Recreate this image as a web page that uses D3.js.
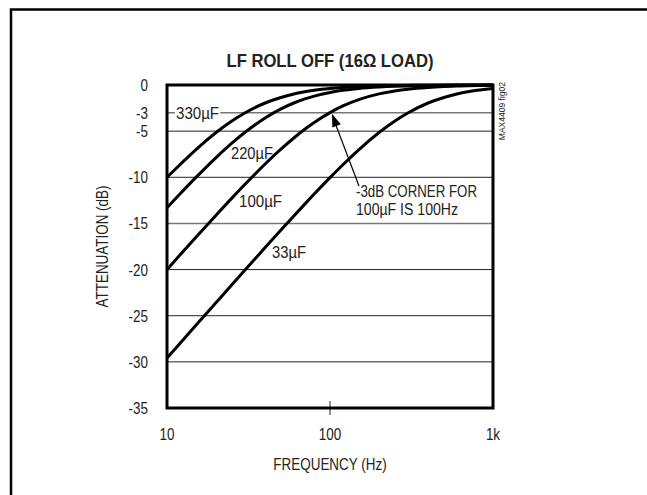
<!DOCTYPE html>
<html><head><meta charset="utf-8">
<script src="https://cdn.jsdelivr.net/npm/d3@7"></script>
<style>
body{margin:0;background:#fff;}
text{font-family:"Liberation Sans Narrow","Liberation Sans",Arial,sans-serif;fill:#222;}
</style></head>
<body><svg id="c" width="647" height="495"></svg>
<script>
const freqs = [10,12,15,20,25,30,40,50,60,70,80,100,120,150,200,250,300,400,500,600,700,800,1000];
const att330 = [-10.0,-8.64,-7.02,-5.15,-3.90,-3.03,-1.95,-1.35,-0.98,-0.74,-0.58,-0.38,-0.27,-0.17,-0.10,-0.063,-0.044,-0.025,-0.016,-0.011,-0.008,-0.006,-0.004];
const att220 = [-13.31,-11.82,-10.04,-7.86,-6.30,-5.15,-3.57,-2.59,-1.95,-1.51,-1.20,-0.81,-0.58,-0.38,-0.22,-0.14,-0.10,-0.055,-0.035,-0.025,-0.018,-0.014,-0.009];
const att100 = [-20.0,-18.43,-16.53,-14.11,-12.26,-10.79,-8.56,-6.95,-5.74,-4.80,-4.06,-2.99,-2.27,-1.58,-0.96,-0.64,-0.45,-0.26,-0.17,-0.12,-0.087,-0.066,-0.043];
const att33 = [-29.59,-28.01,-26.07,-23.58,-21.65,-20.08,-17.62,-15.72,-14.19,-12.91,-11.82,-10.04,-8.64,-7.02,-5.15,-3.90,-3.03,-1.95,-1.35,-0.98,-0.74,-0.58,-0.38];
const seriesNames = ["330µF","220µF","100µF","33µF"];
const yTicks = [0,-3,-5,-10,-15,-20,-25,-30,-35];
const xTicks = [10,100,1000];
const xTickLabels = ["10","100","1k"];
const title = "LF ROLL OFF (16Ω LOAD)";

const svg = d3.select("#c");
// outer frame
svg.append("path").attr("d","M11,495 V9.5 H647").attr("fill","none").attr("stroke","#000").attr("stroke-width",2.5);

const L=167, R=493, T=85, B=408;
const x = d3.scaleLog().domain([10,1000]).range([L,R]);
const y = d3.scaleLinear().domain([-35,0]).range([B,T]);

function narrow(t, w){
  const nw = t.node().getComputedTextLength();
  t.attr("textLength", w!=null ? w : nw*0.84).attr("lengthAdjust","spacingAndGlyphs");
  return t;
}

// gridlines
svg.append("g").selectAll("line").data(yTicks.filter(d=>d!==0&&d!==-35)).join("line")
  .attr("x1",L).attr("x2",R).attr("y1",d=>y(d)).attr("y2",d=>y(d))
  .attr("stroke",d=>(d===-3||d===-15)?"#777":"#222")
  .attr("stroke-width",d=>(d===-3||d===-15)?1.5:1);

// y tick labels
svg.append("g").selectAll("text").data(yTicks).join("text")
  .attr("x",148).attr("y",d=>y(d)+6).attr("text-anchor","end")
  .attr("font-size",16).text(d=>d).each(function(){narrow(d3.select(this));});

// x axis labels
svg.append("g").selectAll("text").data(xTicks).join("text")
  .attr("x",(d)=>x(d)).attr("y",440).attr("text-anchor","middle").attr("font-size",16)
  .text((d,i)=>xTickLabels[i]).each(function(){narrow(d3.select(this));});
svg.append("line").attr("x1",x(100)).attr("x2",x(100)).attr("y1",B-7).attr("y2",B+7).attr("stroke","#222").attr("stroke-width",1);

// labels with white bg
function label(txt,xx,yy,w,bg){
  const t=svg.append("text").attr("x",xx).attr("y",yy).attr("font-size",16).text(txt);
  narrow(t,w);
  if(bg){const b=t.node().getBBox();svg.insert("rect",()=>t.node()).attr("x",b.x-1).attr("y",b.y+2).attr("width",b.width+2).attr("height",b.height-4).attr("fill","#fff");}
  return t;
}

// curves
const line = d3.line().x((d,i)=>x(freqs[i])).y(d=>y(d)).curve(d3.curveMonotoneX);
const all=[att330,att220,att100,att33];
svg.append("g").selectAll("path").data(all).join("path")
  .attr("d",line).attr("fill","none").attr("stroke","#000").attr("stroke-width",3);

// curve labels
label(seriesNames[0],176,119,43,true);
label(seriesNames[1],231,159,42,false);
label(seriesNames[2],239,207,43,false);
label(seriesNames[3],272,258,34,false);

// annotation
label("-3dB CORNER FOR",356,197,121,true);
label("100µF IS 100Hz",356,215,102,true);
// arrow
const tipX=x(100)+2, tipY=y(-3)+1, startX=359, startY=186;
svg.append("line").attr("x1",startX).attr("y1",startY).attr("x2",tipX+3).attr("y2",tipY+9).attr("stroke","#000").attr("stroke-width",1.2);
const ang=Math.atan2(startY-tipY,startX-tipX);
const hl=13, hw=4.5;
const bx=tipX+hl*Math.cos(ang), by=tipY+hl*Math.sin(ang);
svg.append("path").attr("d",`M${tipX},${tipY} L${bx-hw*Math.sin(ang)},${by+hw*Math.cos(ang)} L${bx+hw*Math.sin(ang)},${by-hw*Math.cos(ang)} Z`).attr("fill","#000");

// plot frame
svg.append("rect").attr("x",L).attr("y",T).attr("width",R-L).attr("height",B-T).attr("fill","none").attr("stroke","#000").attr("stroke-width",3);

// titles
narrow(svg.append("text").attr("x",330).attr("y",67).attr("text-anchor","middle").attr("font-size",19).attr("font-weight","bold").text(title),207);
narrow(svg.append("text").attr("transform",`translate(108,${(T+B)/2}) rotate(-90)`).attr("text-anchor","middle").attr("font-size",16).text("ATTENUATION (dB)"));
narrow(svg.append("text").attr("x",330).attr("y",470).attr("text-anchor","middle").attr("font-size",16).text("FREQUENCY (Hz)"));
svg.append("text").attr("transform",`translate(505,82) rotate(-90)`).attr("text-anchor","end").attr("font-size",8.5).attr("fill","#444").text("MAX4409 fig02");
</script></body></html>
